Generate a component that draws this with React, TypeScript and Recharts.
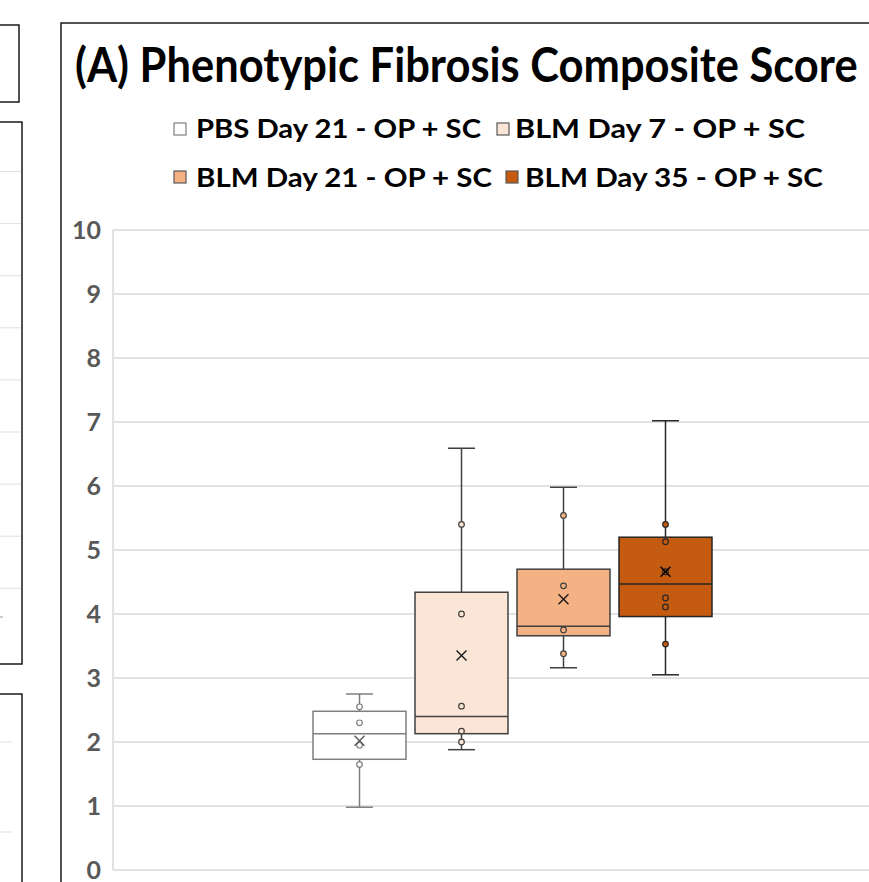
import React from 'react';
import { ComposedChart, Bar, XAxis, YAxis, CartesianGrid } from 'recharts';

// ---------- data ----------
const categories = [
  'PBS Day 21 - OP + SC',
  'BLM Day 7 - OP + SC',
  'BLM Day 21 - OP + SC',
  'BLM Day 35 - OP + SC',
];
const seriesKeys = ['pbs21', 'blm7', 'blm21', 'blm35'];
const minValues = [0.98, 1.88, 3.16, 3.05];
const q1Values = [1.73, 2.13, 3.66, 3.96];
const medianValues = [2.13, 2.4, 3.81, 4.47];
const q3Values = [2.48, 4.34, 4.7, 5.2];
const maxValues = [2.75, 6.59, 5.98, 7.02];
const meanValues = [2.02, 3.35, 4.23, 4.66];
const pbs21Points = [2.55, 2.3, 1.95, 1.65];
const blm7Points = [5.4, 4.0, 2.56, 2.17, 2.0];
const blm21Points = [5.54, 4.44, 3.75, 3.38];
const blm35Points = [5.4, 5.13, 4.66, 4.25, 4.11, 3.53];
const innerPoints = [pbs21Points, blm7Points, blm21Points, blm35Points];
const yTicks = [0, 1, 2, 3, 4, 5, 6, 7, 8, 9, 10];
const titleText = '(A) Phenotypic Fibrosis Composite Score';

// ---------- styles ----------
const fills = ['#FFFFFF', '#FBE5D6', '#F4B183', '#C55A11'];
const strokes = ['#7F7F7F', '#404040', '#404040', '#262626'];
const meanStrokes = ['#595959', '#1a1a1a', '#1a1a1a', '#000000'];
const FONT = 'Lato, "Open Sans", sans-serif';

const chartData = [
  seriesKeys.reduce(
    (row: any, key, i) => {
      row[key] = [q1Values[i], q3Values[i]];
      return row;
    },
    { group: 'A' } as any
  ),
];

const makeBoxShape = (i: number) => (props: any) => {
  const { x, y, width, height } = props;
  if (x == null || y == null) return <g />;
  const top = Math.min(y, y + height);
  const bottom = Math.max(y, y + height);
  const lo = q1Values[i];
  const hi = q3Values[i];
  const k = (bottom - top) / (hi - lo);
  const yOf = (v: number) => bottom - (v - lo) * k;
  const cx = x + width / 2;
  const stroke = strokes[i];
  const capHalf = 13.5;
  const yMax = yOf(maxValues[i]);
  const yMin = yOf(minValues[i]);
  const yMed = yOf(medianValues[i]);
  const yMean = yOf(meanValues[i]);
  const m = 5;
  return (
    <g>
      <line x1={cx} x2={cx} y1={top} y2={yMax} stroke={stroke} strokeWidth={1.5} />
      <line x1={cx} x2={cx} y1={bottom} y2={yMin} stroke={stroke} strokeWidth={1.5} />
      <line x1={cx - capHalf} x2={cx + capHalf} y1={yMax} y2={yMax} stroke={stroke} strokeWidth={1.5} />
      <line x1={cx - capHalf} x2={cx + capHalf} y1={yMin} y2={yMin} stroke={stroke} strokeWidth={1.5} />
      <rect x={x} y={top} width={width} height={bottom - top} fill={fills[i]} stroke={stroke} strokeWidth={1.5} />
      <line x1={x} x2={x + width} y1={yMed} y2={yMed} stroke={stroke} strokeWidth={1.5} />
      {innerPoints[i].map((v, j) => (
        <circle key={j} cx={cx} cy={yOf(v)} r={2.8} fill={fills[i]} stroke={stroke} strokeWidth={1.2} />
      ))}
      <line x1={cx - m} x2={cx + m} y1={yMean - m} y2={yMean + m} stroke={meanStrokes[i]} strokeWidth={1.4} />
      <line x1={cx - m} x2={cx + m} y1={yMean + m} y2={yMean - m} stroke={meanStrokes[i]} strokeWidth={1.4} />
    </g>
  );
};

const legendItems = [
  { i: 0, mx: 174, my: 123, tx: 196, ty: 138, len: 285 },
  { i: 1, mx: 497, my: 123, tx: 515, ty: 138, len: 290 },
  { i: 2, mx: 174, my: 171, tx: 196, ty: 187, len: 296 },
  { i: 3, mx: 506, my: 171, tx: 525, ty: 187, len: 298 },
];

const box2Grid = [171.5, 223.6, 275.7, 327.8, 379.9, 432, 484.1, 536.2, 588.3];
const box3Grid = [742, 832];

export default function App() {
  return (
    <div
      style={{
        position: 'absolute',
        left: 0,
        top: 0,
        width: 869,
        height: 882,
        overflow: 'hidden',
        background: '#ffffff',
      }}
    >
      <ComposedChart
        width={930}
        height={882}
        data={chartData}
        margin={{ top: 230, right: 18, bottom: 12, left: 0 }}
        barGap={9}
      >
        <CartesianGrid vertical={false} stroke="#d9d9d9" strokeWidth={1.5} />
        <XAxis dataKey="group" type="category" hide />
        <YAxis
          type="number"
          domain={[0, 10]}
          ticks={yTicks}
          interval={0}
          width={113}
          tickLine={false}
          tickMargin={6}
          axisLine={{ stroke: '#d9d9d9', strokeWidth: 1.5 }}
          tick={{ fill: '#595959', fontSize: 25, fontWeight: 700, fontFamily: FONT }}
        />
        {seriesKeys.map((key, i) => (
          <Bar
            key={key}
            dataKey={key}
            name={categories[i]}
            barSize={93}
            isAnimationActive={false}
            shape={makeBoxShape(i)}
          />
        ))}
      </ComposedChart>
      <svg
        width={869}
        height={882}
        style={{ position: 'absolute', left: 0, top: 0, pointerEvents: 'none' }}
      >
        {/* neighbouring panels (cropped) */}
        <path d="M -5 25 L 19 25 L 19 102 L -5 102" fill="none" stroke="#1a1a1a" strokeWidth={1.5} />
        {box2Grid.map((gy, j) => (
          <line key={j} x1={0} x2={21} y1={gy} y2={gy} stroke="#e0e0e0" strokeWidth={1} />
        ))}
        <line x1={0} x2={3} y1={617} y2={617} stroke="#9a9a9a" strokeWidth={1} />
        <path d="M -5 122 L 22 122 L 22 664 L -5 664" fill="none" stroke="#1a1a1a" strokeWidth={1.5} />
        {box3Grid.map((gy, j) => (
          <line key={j} x1={0} x2={12} y1={gy} y2={gy} stroke="#e0e0e0" strokeWidth={1} />
        ))}
        <path d="M -5 694 L 22 694 L 22 900" fill="none" stroke="#1a1a1a" strokeWidth={1.5} />
        {/* main panel border */}
        <path d="M 61 900 L 61 23 L 935 23" fill="none" stroke="#1a1a1a" strokeWidth={1.5} />
        {/* title */}
        <g transform="translate(75,82) scale(0.906,1)">
          <text x={0} y={0} fontFamily={FONT} fontWeight={700} fontSize={48} fill="#000000">
            {titleText}
          </text>
        </g>
        {/* legend */}
        {legendItems.map((it) => (
          <g key={it.i}>
            <rect
              x={it.mx}
              y={it.my}
              width={12}
              height={12}
              fill={fills[it.i]}
              stroke={it.i === 0 ? '#7F7F7F' : '#595959'}
              strokeWidth={1.2}
            />
            <text
              x={it.tx}
              y={it.ty}
              fontFamily={FONT}
              fontWeight={700}
              fontSize={26}
              fill="#000000"
              textLength={it.len}
              lengthAdjust="spacingAndGlyphs"
            >
              {categories[it.i]}
            </text>
          </g>
        ))}
      </svg>
    </div>
  );
}
